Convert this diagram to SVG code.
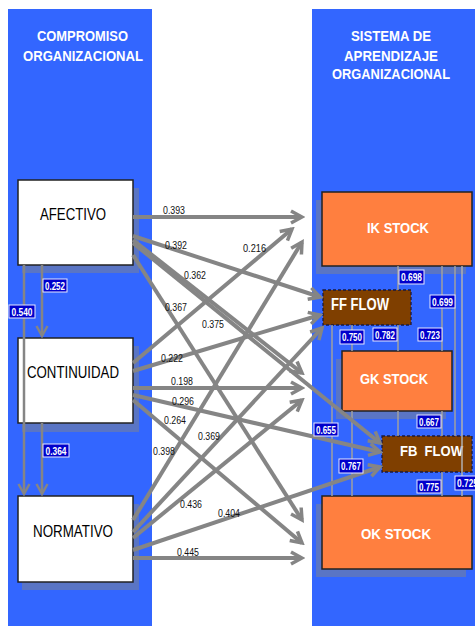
<svg xmlns="http://www.w3.org/2000/svg" width="475" height="626" viewBox="0 0 475 626">
<defs>
<style>
.panel{fill:#3366ff}
.shadow{fill:#5a75c4}
.lbox{fill:#ffffff;stroke:#222;stroke-width:1.5}
.stock{fill:#ff7f3f;stroke:#222;stroke-width:1.5}
.flow{fill:#7f3f00;stroke:#1a1a40;stroke-width:1.3;stroke-dasharray:3,2}
.hdr{font-family:"Liberation Sans",Arial,sans-serif;font-weight:bold;font-size:15.5px;fill:#fff;text-anchor:middle}
.ltxt{font-family:"Liberation Sans",Arial,sans-serif;font-size:16px;fill:#000;text-anchor:middle}
.rtxt{font-family:"Liberation Sans",Arial,sans-serif;font-weight:bold;font-size:15px;fill:#fff;text-anchor:middle}
.arr{stroke:#858585;stroke-width:4;fill:none;marker-end:url(#ah)}
.varr{stroke:#858585;stroke-width:2.5;fill:none}
.vline{stroke:#a0a0a0;stroke-width:1.5;fill:none}
.coef{font-family:"Liberation Sans",Arial,sans-serif;font-size:10px;fill:#111}
.bl rect{fill:#0000cc;stroke:#e8e8ff;stroke-width:1}
.bl text{font-family:"Liberation Sans",Arial,sans-serif;font-weight:bold;font-size:10px;fill:#fff;text-anchor:middle}
</style>
<marker id="ah" markerUnits="userSpaceOnUse" markerWidth="16" markerHeight="16" viewBox="-12 -8 14 16" refX="0" refY="0" orient="auto">
<path d="M-11,-6 L0,0 L-11,6" fill="none" stroke="#858585" stroke-width="3.5"/>
</marker>
<marker id="ahs" markerUnits="userSpaceOnUse" markerWidth="16" markerHeight="16" viewBox="-12 -8 14 16" refX="0" refY="0" orient="auto">
<path d="M-10,-5.5 L0,0 L-10,5.5" fill="none" stroke="#858585" stroke-width="2.5"/>
</marker>
</defs>

<rect class="panel" x="8" y="9" width="144" height="617"/>
<rect class="panel" x="312" y="9" width="163" height="617"/>

<text class="hdr" x="82.5" y="41" textLength="91" lengthAdjust="spacingAndGlyphs">COMPROMISO</text>
<text class="hdr" x="83" y="61" textLength="120" lengthAdjust="spacingAndGlyphs">ORGANIZACIONAL</text>
<text class="hdr" x="391" y="41" textLength="80" lengthAdjust="spacingAndGlyphs">SISTEMA DE</text>
<text class="hdr" x="391" y="61" textLength="94" lengthAdjust="spacingAndGlyphs">APRENDIZAJE</text>
<text class="hdr" x="391" y="79" textLength="118" lengthAdjust="spacingAndGlyphs">ORGANIZACIONAL</text>

<g id="afectivo">
<rect class="shadow" x="22" y="188" width="117" height="85"/>
<rect class="lbox" x="18" y="180" width="115" height="85"/>
<text class="ltxt" x="73" y="220" textLength="66" lengthAdjust="spacingAndGlyphs">AFECTIVO</text>
</g>
<g id="continuidad">
<rect class="shadow" x="22" y="346" width="117" height="86"/>
<rect class="lbox" x="18" y="338" width="115" height="85"/>
<text class="ltxt" x="73" y="378" textLength="92" lengthAdjust="spacingAndGlyphs">CONTINUIDAD</text>
</g>
<g id="normativo">
<rect class="shadow" x="22" y="504" width="117" height="86"/>
<rect class="lbox" x="18" y="496" width="115" height="86"/>
<text class="ltxt" x="73" y="537" textLength="80" lengthAdjust="spacingAndGlyphs">NORMATIVO</text>
</g>

<g id="ik-stock">
<rect class="shadow" x="316" y="200" width="150" height="74"/>
<rect class="stock" x="322" y="192" width="150" height="74"/>
<text class="rtxt" x="398" y="233" textLength="62" lengthAdjust="spacingAndGlyphs">IK STOCK</text>
</g>
<g id="ff-flow">
<rect class="flow" x="323" y="290" width="88" height="35"/>
<text class="rtxt" x="331" y="310" style="text-anchor:start;font-size:16px" textLength="58" lengthAdjust="spacingAndGlyphs">FF FLOW</text>
</g>
<g id="gk-stock">
<rect class="shadow" x="336" y="359" width="110" height="60"/>
<rect class="stock" x="342" y="351" width="110" height="60"/>
<text class="rtxt" x="394" y="384" textLength="68" lengthAdjust="spacingAndGlyphs">GK STOCK</text>
</g>
<g id="fb-flow">
<rect class="flow" x="382" y="436" width="90" height="36"/>
<text class="rtxt" x="400" y="456" style="text-anchor:start;white-space:pre" textLength="63" lengthAdjust="spacingAndGlyphs">FB  FLOW</text>
</g>
<g id="ok-stock">
<rect class="shadow" x="316" y="504" width="150" height="73"/>
<rect class="stock" x="322" y="496" width="150" height="73"/>
<text class="rtxt" x="396" y="539" textLength="70" lengthAdjust="spacingAndGlyphs">OK STOCK</text>
</g>

<g id="connectors">
<!-- left vertical -->
<path class="varr" d="M24,265 V494" marker-end="url(#ahs)"/>
<path class="varr" d="M42,265 V336" marker-end="url(#ahs)"/>
<path class="varr" d="M42,423 V494" marker-end="url(#ahs)"/>
<!-- right vertical -->
<path class="vline" d="M332,325 V496"/>
<path class="vline" d="M352,325 V351 M352,411 V496"/>
<path class="vline" d="M398,266 V290 M398,325 V351 M398,411 V436"/>
<path class="vline" d="M442,266 V351 M442,411 V436 M442,472 V496"/>
<path class="vline" d="M455,266 V436"/>
<path class="vline" d="M462,266 V496" style="stroke:#b0b0b0"/>
<!-- center arrows -->
<path class="arr" d="M133,217 L302,217"/>
<path class="arr" d="M133,236 L320,297"/>
<path class="arr" d="M133,240 L302,373"/>
<path class="arr" d="M133,243 L380,443"/>
<path class="arr" d="M133,255 L302,520"/>
<path class="arr" d="M133,363 L292,229"/>
<path class="arr" d="M133,371 L320,315"/>
<path class="arr" d="M133,388 L302,388"/>
<path class="arr" d="M133,395 L380,452"/>
<path class="arr" d="M133,400 L302,543"/>
<path class="arr" d="M133,520 L302,242"/>
<path class="arr" d="M133,532 L322,328"/>
<path class="arr" d="M133,538 L302,400"/>
<path class="arr" d="M133,550 L380,467"/>
<path class="arr" d="M133,558 L302,558"/>
<!-- coefficient labels -->
<g class="coef">
<text x="163" y="214" textLength="22" lengthAdjust="spacingAndGlyphs">0.393</text>
<text x="165" y="249" textLength="22" lengthAdjust="spacingAndGlyphs">0.392</text>
<text x="184" y="279" textLength="22" lengthAdjust="spacingAndGlyphs">0.362</text>
<text x="165" y="311" textLength="22" lengthAdjust="spacingAndGlyphs">0.367</text>
<text x="202" y="328" textLength="22" lengthAdjust="spacingAndGlyphs">0.375</text>
<text x="243" y="252" textLength="23" lengthAdjust="spacingAndGlyphs">0.216</text>
<text x="161" y="362" textLength="22" lengthAdjust="spacingAndGlyphs">0.222</text>
<text x="171" y="385" textLength="22" lengthAdjust="spacingAndGlyphs">0.198</text>
<text x="172" y="405" textLength="22" lengthAdjust="spacingAndGlyphs">0.296</text>
<text x="164" y="424" textLength="22" lengthAdjust="spacingAndGlyphs">0.264</text>
<text x="198" y="440" textLength="22" lengthAdjust="spacingAndGlyphs">0.369</text>
<text x="153" y="455" textLength="22" lengthAdjust="spacingAndGlyphs">0.398</text>
<text x="180" y="508" textLength="22" lengthAdjust="spacingAndGlyphs">0.436</text>
<text x="218" y="517" textLength="22" lengthAdjust="spacingAndGlyphs">0.404</text>
<text x="177" y="556" textLength="22" lengthAdjust="spacingAndGlyphs">0.445</text>
</g>
<!-- boxed labels -->
<g class="bl">
<rect x="43" y="279" width="24" height="13"/><text x="55" y="289.5" textLength="20" lengthAdjust="spacingAndGlyphs">0.252</text>
<rect x="9" y="305" width="26" height="13"/><text x="22" y="315.5" textLength="21" lengthAdjust="spacingAndGlyphs">0.540</text>
<rect x="43" y="444" width="26" height="13"/><text x="56" y="454.5" textLength="21" lengthAdjust="spacingAndGlyphs">0.364</text>
<rect x="399" y="270" width="25" height="14"/><text x="411.5" y="281" textLength="21" lengthAdjust="spacingAndGlyphs">0.698</text>
<rect x="430" y="295" width="25" height="13"/><text x="442.5" y="305.5" textLength="21" lengthAdjust="spacingAndGlyphs">0.699</text>
<rect x="340" y="330" width="24" height="14"/><text x="352" y="341" textLength="20" lengthAdjust="spacingAndGlyphs">0.750</text>
<rect x="373" y="328" width="24" height="13"/><text x="385" y="338.5" textLength="20" lengthAdjust="spacingAndGlyphs">0.782</text>
<rect x="418" y="328" width="24" height="13"/><text x="430" y="338.5" textLength="20" lengthAdjust="spacingAndGlyphs">0.723</text>
<rect x="417" y="415" width="24" height="13"/><text x="429" y="425.5" textLength="20" lengthAdjust="spacingAndGlyphs">0.667</text>
<rect x="314" y="423" width="24" height="13"/><text x="326" y="433.5" textLength="20" lengthAdjust="spacingAndGlyphs">0.655</text>
<rect x="339" y="459" width="24" height="14"/><text x="351" y="470" textLength="20" lengthAdjust="spacingAndGlyphs">0.767</text>
<rect x="417" y="480" width="24" height="13"/><text x="429" y="490.5" textLength="20" lengthAdjust="spacingAndGlyphs">0.775</text>
<rect x="455" y="476" width="25" height="14"/><text x="467.5" y="487" textLength="21" lengthAdjust="spacingAndGlyphs">0.725</text>
</g>
</g>
</svg>
